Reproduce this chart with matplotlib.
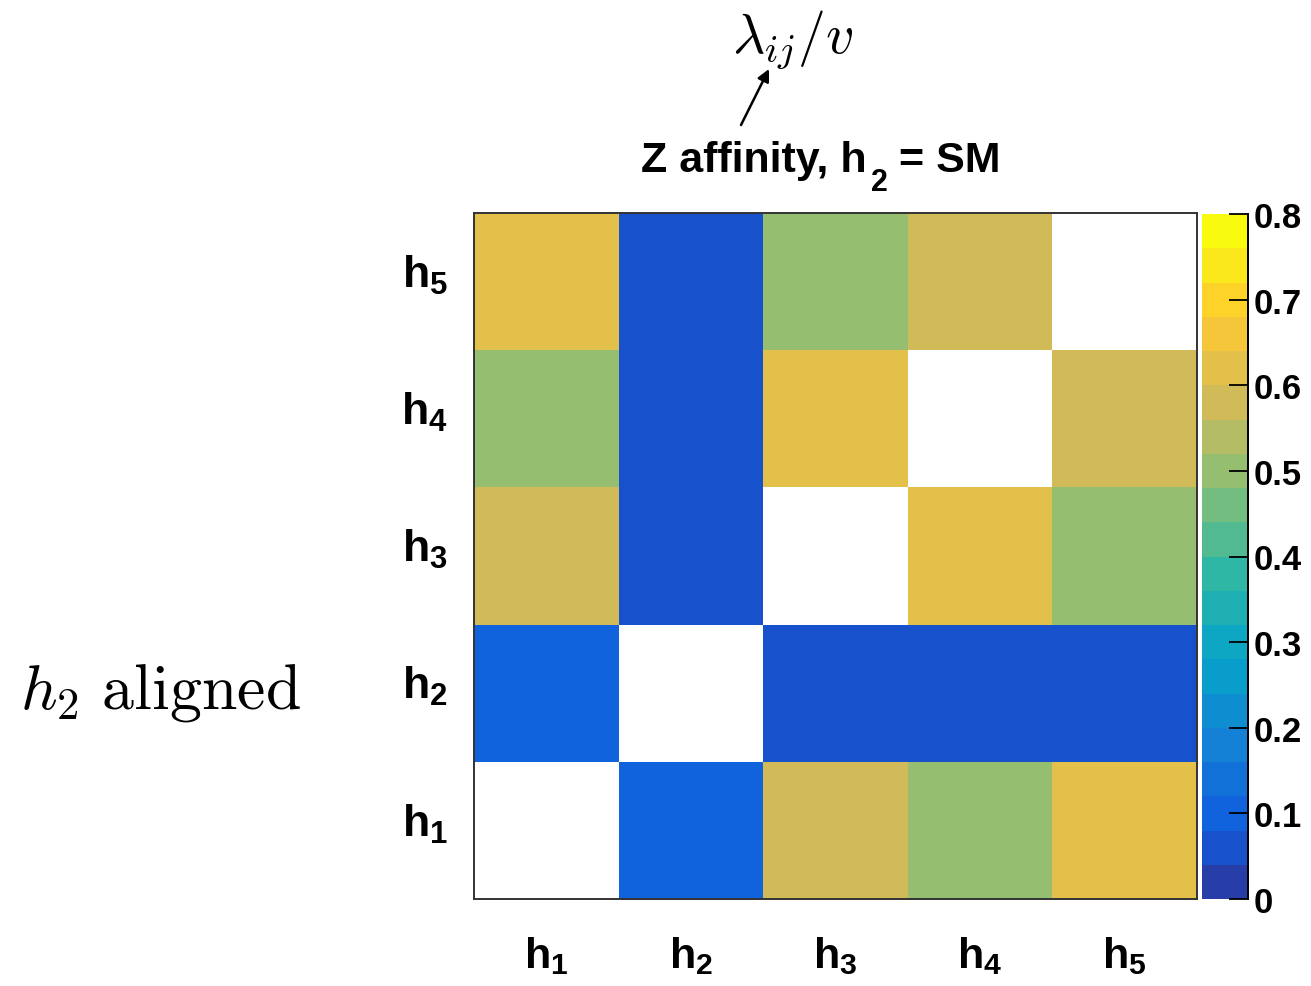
import numpy as np
import matplotlib
matplotlib.use("Agg")
import matplotlib.pyplot as plt
from matplotlib.colors import LinearSegmentedColormap, ListedColormap, BoundaryNorm
from matplotlib.transforms import ScaledTranslation

# ---- data ----
x_labels = ["1", "2", "3", "4", "5"]
y_labels = ["1", "2", "3", "4", "5"]
row_h1 = [np.nan, 0.10, 0.58, 0.50, 0.62]
row_h2 = [0.10, np.nan, 0.06, 0.06, 0.06]
row_h3 = [0.58, 0.06, np.nan, 0.62, 0.50]
row_h4 = [0.50, 0.06, 0.62, np.nan, 0.58]
row_h5 = [0.62, 0.06, 0.50, 0.58, np.nan]
z_min, z_max, n_levels = 0.0, 0.8, 20
cbar_ticks = [0, 0.1, 0.2, 0.3, 0.4, 0.5, 0.6, 0.7, 0.8]
cbar_ticklabels = ["0", "0.1", "0.2", "0.3", "0.4", "0.5", "0.6", "0.7", "0.8"]
title_pre, title_sub, title_post = "Z affinity, h", "2", "= SM"

Z = np.array([row_h1, row_h2, row_h3, row_h4, row_h5])

# ---- ROOT kBird palette ----
stops = [0.0, 0.125, 0.25, 0.375, 0.5, 0.625, 0.75, 0.875, 1.0]
red = [0.2082, 0.0592, 0.0780, 0.0232, 0.1802, 0.5301, 0.8186, 0.9956, 0.9764]
green = [0.1664, 0.3599, 0.5041, 0.6419, 0.7178, 0.7492, 0.7328, 0.7862, 0.9832]
blue = [0.5293, 0.8684, 0.8385, 0.7914, 0.6425, 0.4662, 0.3499, 0.1968, 0.0539]
bird = LinearSegmentedColormap.from_list(
    "kBird", list(zip(stops, zip(red, green, blue))), N=255)
idx = [int((i + 0.99) * 255 / n_levels) / 254 for i in range(n_levels)]
cmap = ListedColormap([bird(min(t, 1.0)) for t in idx])
cmap.set_bad("white")
bounds = np.linspace(z_min, z_max, n_levels + 1)
norm = BoundaryNorm(bounds, cmap.N)

plt.rcParams["font.family"] = ["Liberation Sans", "DejaVu Sans"]
plt.rcParams["mathtext.fontset"] = "custom"
plt.rcParams["mathtext.rm"] = "Liberation Sans:bold"
plt.rcParams["mathtext.it"] = "Liberation Sans:bold"
plt.rcParams["mathtext.bf"] = "Liberation Sans:bold"

W, H = 1311, 987
fig = plt.figure(figsize=(W / 100, H / 100), dpi=100)
fig.patch.set_facecolor("white")

def fx(px):
    return px / W

def fy(py):
    return 1 - py / H

ax = fig.add_axes([fx(474), fy(900), fx(1197) - fx(474), fy(214) - fy(900)])
mesh = ax.pcolormesh(np.arange(6) + 0.5, np.arange(6) + 0.5, np.ma.masked_invalid(Z),
                     cmap=cmap, norm=norm, shading="flat", linewidth=0)
ax.set_xlim(0.5, 5.5)
ax.set_ylim(0.5, 5.5)
ax.set_xticks(np.arange(1, 6))
ax.set_yticks(np.arange(1, 6))
ax.set_xticklabels([r"$\mathrm{h}_{\mathrm{%s}}$" % s for s in x_labels], fontsize=31)
ax.set_yticklabels([r"$\mathrm{h}_{\mathrm{%s}}$" % s for s in y_labels], fontsize=32,
                   va="baseline")
ax.tick_params(axis="x", length=0, pad=25)
ax.tick_params(axis="y", length=0, pad=19)
shift = ScaledTranslation(0, -5 / 100, fig.dpi_scale_trans)
for tick in ax.yaxis.get_major_ticks():
    tick.label1.set_transform(tick.label1.get_transform() + shift)
for sp in ax.spines.values():
    sp.set_linewidth(1.4)
    sp.set_color("#333333")

cax = fig.add_axes([fx(1202), fy(900), fx(1248) - fx(1202), fy(215) - fy(900)])
cb = fig.colorbar(mesh, cax=cax, boundaries=bounds, ticks=cbar_ticks)
cb.outline.set_visible(False)
cax.spines["right"].set_visible(True)
cax.spines["right"].set_linewidth(1.4)
cax.yaxis.set_ticks_position("right")
cax.set_yticklabels(cbar_ticklabels)
cax.tick_params(axis="y", direction="in", length=14, width=1.3, pad=4,
                labelsize=25)
for lab in cax.get_yticklabels():
    lab.set_fontweight("bold")
cax.minorticks_off()

# title (ROOT-style lowered subscript)
renderer = fig.canvas.get_renderer()
t1 = fig.text(fx(641), fy(172), title_pre, ha="left", va="baseline",
              fontsize=31, fontweight="bold")
bb1 = t1.get_window_extent(renderer)
t2 = fig.text((bb1.x1 + 4) / W, fy(191), title_sub, ha="left", va="baseline",
              fontsize=22, fontweight="bold")
bb2 = t2.get_window_extent(renderer)
t3 = fig.text((bb2.x1 + 12) / W, fy(172), title_post, ha="left", va="baseline",
              fontsize=31, fontweight="bold")

# lambda annotation
fig.text(fx(793), fy(40), r"$\lambda_{ij}/v$", ha="center", va="center",
         fontsize=40, math_fontfamily="cm")
ax.annotate("", xy=(fx(769), fy(70)), xycoords="figure fraction",
            xytext=(fx(741), fy(126)), textcoords="figure fraction",
            arrowprops=dict(arrowstyle="-|>", color="black", lw=1.8,
                            mutation_scale=18, shrinkA=0, shrinkB=0))

fig.text(fx(160), fy(693), r"$h_2\ \mathrm{aligned}$", ha="center", va="center",
         fontsize=46, math_fontfamily="cm")

fig.savefig("out.png", dpi=100, facecolor="white")
